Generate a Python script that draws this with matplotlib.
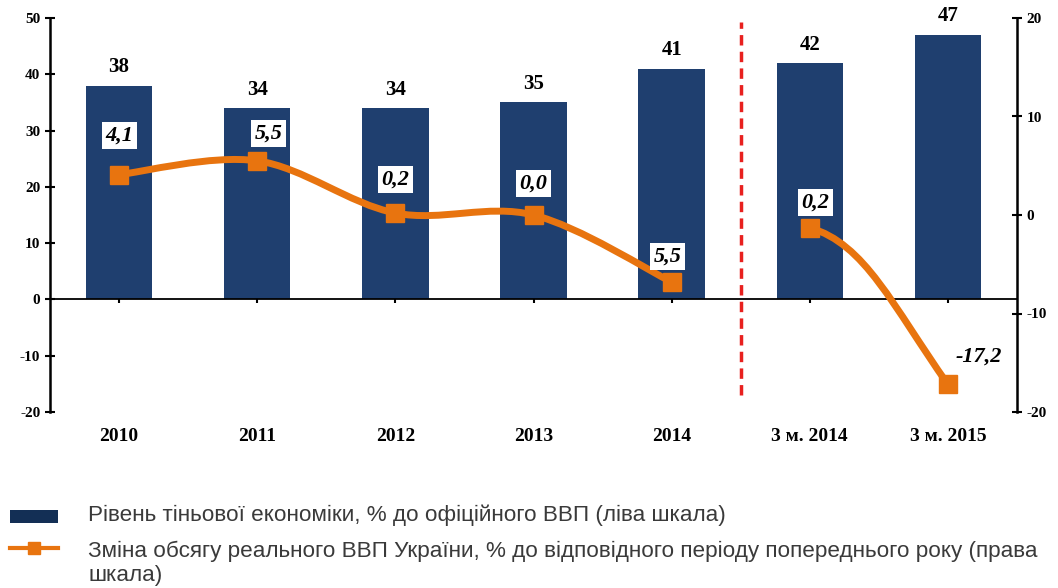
import numpy as np
import matplotlib.pyplot as plt
from matplotlib.path import Path
from matplotlib.patches import PathPatch, Rectangle
from matplotlib.lines import Line2D
import matplotlib.transforms as mtransforms

plt.rcParams['axes.unicode_minus'] = False

# дані
categories = ['2010', '2011', '2012', '2013', '2014', '3 м. 2014', '3 м. 2015']
shadow = [38, 34, 34, 35, 41, 42, 47]
gdp = [4.1, 5.5, 0.2, 0.0, -6.8, -1.3, -17.2]
gdp_labels = ['4,1', '5,5', '0,2', '0,0', '5,5', '0,2', '-17,2']

bar_color = '#1f3f6f'
orange = '#e8740f'
serif = 'Liberation Serif'

fig = plt.figure(figsize=(10.58, 5.88), dpi=100)
ax = fig.add_axes([50/1058, 176/588, 967/1058, 394/588])
ax2 = ax.twinx()

x = np.arange(len(categories))
ax.bar(x, shadow, width=0.48, color=bar_color, zorder=2)
for xi, v in zip(x, shadow):
    ax.text(xi, v + 1.5, str(v), ha='center', va='bottom', fontsize=15,
            fontweight='bold', family=serif)

ax.set_xlim(-0.5, len(categories) - 0.5)
ax.set_ylim(-20, 50)
ax.set_yticks(range(-20, 51, 10))
ax2.set_ylim(-20, 20)
ax2.set_yticks(range(-20, 21, 10))

for a in (ax, ax2):
    a.spines['top'].set_visible(False)
    for s in a.spines.values():
        s.set_linewidth(1.8)
ax.spines['right'].set_visible(False)
ax.spines['bottom'].set_position(('data', 0))
ax.spines['bottom'].set_linewidth(1.3)
ax2.spines['bottom'].set_visible(False)
ax2.spines['left'].set_visible(False)

ax.tick_params(axis='y', direction='inout', length=7, width=1.5, labelsize=11)
ax2.tick_params(axis='y', direction='inout', length=7, width=1.5, labelsize=11)
ax.tick_params(axis='x', direction='inout', length=6, width=1.5, labelbottom=False)
ax.set_xticks(x)
for lab in ax.get_yticklabels() + ax2.get_yticklabels():
    lab.set_family(serif)
    lab.set_fontweight('bold')

trans = mtransforms.blended_transform_factory(ax.transData, ax.transAxes)
for xi, c in zip(x, categories):
    ax.text(xi, -0.063, c, transform=trans, ha='center', va='center',
            fontsize=14, fontweight='bold', family=serif)

# вертикальна межа
ax.axvline(4.5, ymin=0.043, ymax=0.99, color='#e8201e', lw=2.5,
           linestyle=(0, (3, 1.8)), zorder=3)


def smooth_path(xs, ys, k=1/6):
    verts = [(xs[0], ys[0])]
    codes = [Path.MOVETO]
    n = len(xs)
    for i in range(n - 1):
        p0 = np.array([xs[max(i - 1, 0)], ys[max(i - 1, 0)]])
        p1 = np.array([xs[i], ys[i]])
        p2 = np.array([xs[i + 1], ys[i + 1]])
        p3 = np.array([xs[min(i + 2, n - 1)], ys[min(i + 2, n - 1)]])
        c1 = p1 + (p2 - p0) * k
        c2 = p2 - (p3 - p1) * k
        verts += [tuple(c1), tuple(c2), tuple(p2)]
        codes += [Path.CURVE4] * 3
    return Path(verts, codes)


p1 = smooth_path(x[:5], gdp[:5])
ax2.add_patch(PathPatch(p1, fill=False, edgecolor=orange, lw=5,
                        capstyle='round', joinstyle='round', zorder=4))
# другий відрізок
x0, y0, x1, y1 = x[5], gdp[5], x[6], gdp[6]
dy = y1 - y0
p2 = Path([(x0, y0), (x0 + 0.4, y0 + 0.1 * dy), (x0 + 0.6, y0 + 0.5 * dy), (x1, y1)],
          [Path.MOVETO, Path.CURVE4, Path.CURVE4, Path.CURVE4])
ax2.add_patch(PathPatch(p2, fill=False, edgecolor=orange, lw=5,
                        capstyle='round', zorder=4))
ax2.plot(x, gdp, linestyle='none', marker='s', markersize=13, color=orange, zorder=5)

offsets = [(0, 4.0), (0.08, 2.8), (0, 3.4), (0, 3.2), (-0.03, 2.6), (0.04, 2.6), (0.22, 2.8)]
for xi, v, lab, (dx, dyl) in zip(x, gdp, gdp_labels, offsets):
    box = dict(facecolor='white', edgecolor='none', pad=2.5) if xi < 6 else None
    ax2.text(xi + dx, v + dyl, lab, ha='center', va='center', fontsize=16,
             fontweight='bold', fontstyle='italic', family=serif, bbox=box, zorder=6)

# легенда
leg_font = {'family': 'Liberation Sans', 'size': 16.2, 'color': '#3a3a3a'}
fig.patches.append(Rectangle((10/1058, 1 - 523/588), 48/1058, 13/588,
                             transform=fig.transFigure, facecolor='#132f55',
                             edgecolor='none'))
fig.lines.append(Line2D([10/1058, 58/1058], [1 - 548/588] * 2, transform=fig.transFigure,
                        color=orange, lw=3))
fig.lines.append(Line2D([34/1058], [1 - 548/588], transform=fig.transFigure,
                        color=orange, marker='s', markersize=9, linestyle='none'))
fig.text(88/1058, 1 - 515/588, 'Рівень тіньової економіки, % до офіційного ВВП (ліва шкала)',
         va='center', ha='left', **leg_font)
fig.text(88/1058, 1 - 551/588,
         'Зміна обсягу реального ВВП України, % до відповідного періоду попереднього року (права',
         va='center', ha='left', **leg_font)
fig.text(88/1058, 1 - 575/588, 'шкала)', va='center', ha='left', **leg_font)

fig.savefig('out.png', dpi=100)
